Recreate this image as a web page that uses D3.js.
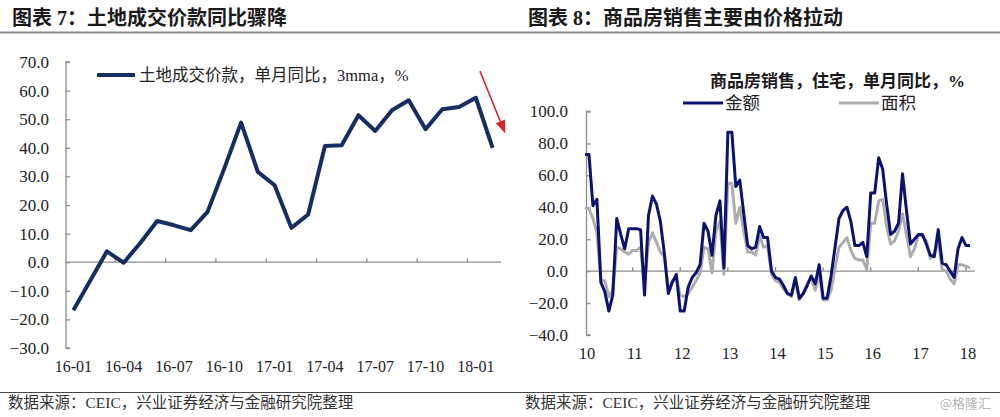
<!DOCTYPE html>
<html><head><meta charset="utf-8">
<script src="https://cdn.jsdelivr.net/npm/d3@7"></script>
<style>body{margin:0;background:#fff}svg{display:block}</style>
</head><body>
<svg id="c" width="1000" height="417"></svg>
<script>
// ---------- Left chart data ----------
const landCats = ["16-01","16-02","16-03","16-04","16-05","16-06","16-07","16-08","16-09","16-10","16-11","16-12",
  "17-01","17-02","17-03","17-04","17-05","17-06","17-07","17-08","17-09","17-10","17-11","17-12","18-01","18-02"];
const landValues = [-16.8,-6.5,3.8,-0.2,6.8,14.4,12.9,11.2,17.6,32.8,48.8,31.6,
  26.9,12.0,16.7,40.6,40.9,51.4,45.9,53.1,56.6,46.5,53.5,54.3,57.5,40.0];
const landTickLabels = ["16-01","16-04","16-07","16-10","17-01","17-04","17-07","17-10","18-01"];
const leftYTicks = [-30,-20,-10,0,10,20,30,40,50,60,70];
const landLegend = "土地成交价款，单月同比，3mma，%";

// ---------- Right chart data (monthly, 2010-01 .. 2018-02) ----------
const salesYears = ["10","11","12","13","14","15","16","17","18"];
const salesAmount = [
  73,73,41,45,-7,-13,-25,-15,33,23,14,26.5,
  26.5,26.5,26,-15,35,47,42,31,11,-14,-7,-2,
  -25,-25,-10,-4,-1,4,30,25,10,35,44,2,
  87,87,53,57,36,16,14,15,28,21,21,0,
  -4,-5,-9,-14,-15,-4,-17,-14,-9,-3,-8,4,
  -17,-17,-3,15,33,38,40,31,16,16,18,9,
  49,49,71,64,42,23,25,30,61,38,17,20,
  23,23,17,10,9,26,5,4,0,-4,14,21,
  16,16];
const salesArea = [
  40,39,33,24,-6,-6,-16,-12,15,14,12,10.6,
  13,13,15,-9,18,24,18,12,9,-12,-6,-4,
  -15,-16,-14,-10,-6,-1,15,14,-1,25,31,-2,
  55,55,30,40,25,12,12,10,22,15,16,-2,
  -6,-7,-11,-14,-16,-6,-18,-14,-8,-4,-12,-2,
  -18,-18,-12,2,15,18,21,13,8,7,7,1,
  30,30,44,45,28,17,19,25,36,23,9,14,
  22,22,19,8,11,19,1,0,-5,-8,4,4,
  3,2];
const salesMonths = d3.range(salesAmount.length);
const rightYTicks = [-40,-20,0,20,40,60,80,100];
const salesSeriesNames = ["金额","面积"];
const salesTitle = "商品房销售，住宅，单月同比，%";

const titles = ["图表 7：土地成交价款同比骤降","图表 8：商品房销售主要由价格拉动"];
const sourceText = "数据来源：CEIC，兴业证券经济与金融研究院整理";
const watermark = "@格隆汇";

const SERIF = "'Liberation Serif','Times New Roman','Noto Sans CJK SC',serif";
const CJK = "'Liberation Serif','Noto Sans CJK SC',sans-serif";
const AXIS = "#8c8c8c";

const svg = d3.select("#c");

// ---------- Headers / footers ----------
svg.append("text").attr("x",12).attr("y",25).attr("font-family",CJK).attr("font-weight","bold")
  .attr("font-size",20).attr("fill","#1a1a1a").text(titles[0]);
svg.append("text").attr("x",528).attr("y",25).attr("font-family",CJK).attr("font-weight","bold")
  .attr("font-size",20).attr("fill","#1a1a1a").text(titles[1]);
svg.append("line").attr("x1",0).attr("x2",1000).attr("y1",32.5).attr("y2",32.5)
  .attr("stroke","#8a8a8a").attr("stroke-width",2);
svg.append("line").attr("x1",0).attr("x2",1000).attr("y1",392.5).attr("y2",392.5)
  .attr("stroke","#444").attr("stroke-width",1);
svg.append("text").attr("x",8).attr("y",408).attr("font-family",CJK)
  .attr("font-size",15.5).attr("fill","#333").text(sourceText);
svg.append("text").attr("x",525).attr("y",408).attr("font-family",CJK)
  .attr("font-size",15.5).attr("fill","#333").text(sourceText);
svg.append("text").attr("x",991).attr("y",408).attr("text-anchor","end").attr("font-family","'Noto Sans CJK SC',sans-serif")
  .attr("font-size",13).attr("fill","#b5b5b5").text(watermark);

// ---------- Left chart ----------
{
  const x = d3.scaleBand().domain(landCats).range([65,501]).padding(0);
  const cx = d => x(d) + x.bandwidth()/2;
  const y = d3.scaleLinear().domain([-30,70]).range([348,62]);
  const g = svg.append("g");

  const ya = g.append("g").attr("transform","translate(66,0)")
    .call(d3.axisRight(y).tickValues(leftYTicks).tickSize(4).tickFormat(""));
  ya.select(".domain").attr("stroke",AXIS).attr("stroke-width",1.3).attr("d",`M4,${y(-30)}H0V${y(70)}H4`);
  ya.selectAll(".tick line").attr("stroke",AXIS).attr("stroke-width",1.3);
  g.selectAll(".ylab").data(leftYTicks).join("text")
    .attr("x",49).attr("y",d=>y(d)).attr("dy","0.35em").attr("text-anchor","end")
    .attr("font-family",SERIF).attr("font-size",17).attr("fill","#222")
    .text(d=>d3.format(".1f")(d));

  g.append("line").attr("x1",66).attr("x2",501).attr("y1",y(0)).attr("y2",y(0))
    .attr("stroke",AXIS).attr("stroke-width",1.3);
  const tickIdx = d3.range(3, landCats.length, 3);
  g.selectAll(".xt").data(tickIdx).join("line")
    .attr("x1",i=>x(landCats[i])).attr("x2",i=>x(landCats[i]))
    .attr("y1",y(0)).attr("y2",y(0)-4).attr("stroke",AXIS).attr("stroke-width",1.3);
  g.selectAll(".xl").data(landTickLabels).join("text")
    .attr("x",d=>cx(d)).attr("y",372).attr("text-anchor","middle")
    .attr("font-family",SERIF).attr("font-size",16).attr("fill","#222").text(d=>d);

  const line = d3.line().x((d,i)=>cx(landCats[i])).y(d=>y(d)).curve(d3.curveLinear);
  g.append("path").datum(landValues).attr("d",line).attr("fill","none")
    .attr("stroke","#142d63").attr("stroke-width",4).attr("stroke-linejoin","round");

  g.append("line").attr("x1",97).attr("x2",135).attr("y1",75).attr("y2",75)
    .attr("stroke","#142d63").attr("stroke-width",4);
  g.append("text").attr("x",139).attr("y",75).attr("dy","0.35em")
    .attr("font-family",CJK).attr("font-size",16.5).attr("fill","#222").text(landLegend);

  // red arrow annotation (data-space)
  const xi = d3.scaleLinear().domain([0, landCats.length-1]).range([cx(landCats[0]), cx(landCats[landCats.length-1])]);
  const a0 = [xi(24.25), y(66.8)], a1 = [xi(25.75), y(45)];
  const ang = Math.atan2(a1[1]-a0[1], a1[0]-a0[0]);
  const hl = 13, hw = 5;
  const bx = a1[0]-hl*Math.cos(ang), by = a1[1]-hl*Math.sin(ang);
  g.append("line").attr("x1",a0[0]).attr("y1",a0[1]).attr("x2",bx).attr("y2",by)
    .attr("stroke","#d42a2a").attr("stroke-width",1.6);
  g.append("path").attr("d",`M${a1[0]},${a1[1]}L${bx+hw*Math.sin(ang)},${by-hw*Math.cos(ang)}L${bx-hw*Math.sin(ang)},${by+hw*Math.cos(ang)}Z`)
    .attr("fill","#d42a2a");
}

// ---------- Right chart ----------
{
  const x = d3.scaleLinear().domain([0,96]).range([585,966]);
  const y = d3.scaleLinear().domain([-40,100]).range([335,111.5]);
  const g = svg.append("g");

  const ya = g.append("g").attr("transform","translate(586.5,0)")
    .call(d3.axisRight(y).tickValues(rightYTicks).tickSize(4).tickFormat(""));
  ya.select(".domain").attr("stroke",AXIS).attr("stroke-width",1.3).attr("d",`M4,${y(-40)}H0V${y(100)}H4`);
  ya.selectAll(".tick line").attr("stroke",AXIS).attr("stroke-width",1.3);
  g.selectAll(".ylab").data(rightYTicks).join("text")
    .attr("x",568).attr("y",d=>y(d)).attr("dy","0.35em").attr("text-anchor","end")
    .attr("font-family",SERIF).attr("font-size",17).attr("fill","#222")
    .text(d=>d3.format(".1f")(d));

  g.append("line").attr("x1",586.5).attr("x2",975).attr("y1",y(0)).attr("y2",y(0))
    .attr("stroke",AXIS).attr("stroke-width",1.3);
  g.selectAll(".xt").data(salesYears.slice(1)).join("line")
    .attr("x1",(d,i)=>x((i+1)*12)).attr("x2",(d,i)=>x((i+1)*12))
    .attr("y1",y(0)).attr("y2",y(0)-4).attr("stroke",AXIS).attr("stroke-width",1.3);
  g.selectAll(".xl").data(salesYears).join("text")
    .attr("x",(d,i)=>x(i*12)+2).attr("y",359).attr("text-anchor","middle")
    .attr("font-family",SERIF).attr("font-size",16.5).attr("fill","#222").text(d=>d);

  const line = d3.line().x((d,i)=>x(salesMonths[i])).y(d=>y(d));
  g.append("path").datum(salesArea).attr("d",line).attr("fill","none")
    .attr("stroke","#adadad").attr("stroke-width",3).attr("stroke-linejoin","round");
  g.append("path").datum(salesAmount).attr("d",line).attr("fill","none")
    .attr("stroke","#0a1470").attr("stroke-width",3).attr("stroke-linejoin","round");

  g.append("text").attr("x",965).attr("y",81).attr("dy","0.35em").attr("text-anchor","end")
    .attr("font-family",CJK).attr("font-weight","bold").attr("font-size",17).attr("fill","#1a1a1a").text(salesTitle);
  const legX = [683, 839], legCol = ["#0a1470","#adadad"];
  salesSeriesNames.forEach((n,i)=>{
    g.append("line").attr("x1",legX[i]).attr("x2",legX[i]+40).attr("y1",103).attr("y2",103)
      .attr("stroke",legCol[i]).attr("stroke-width",3);
    g.append("text").attr("x",legX[i]+42).attr("y",103).attr("dy","0.35em")
      .attr("font-family",CJK).attr("font-size",17.5).attr("fill","#222").text(n);
  });
}
</script>
</body></html>
